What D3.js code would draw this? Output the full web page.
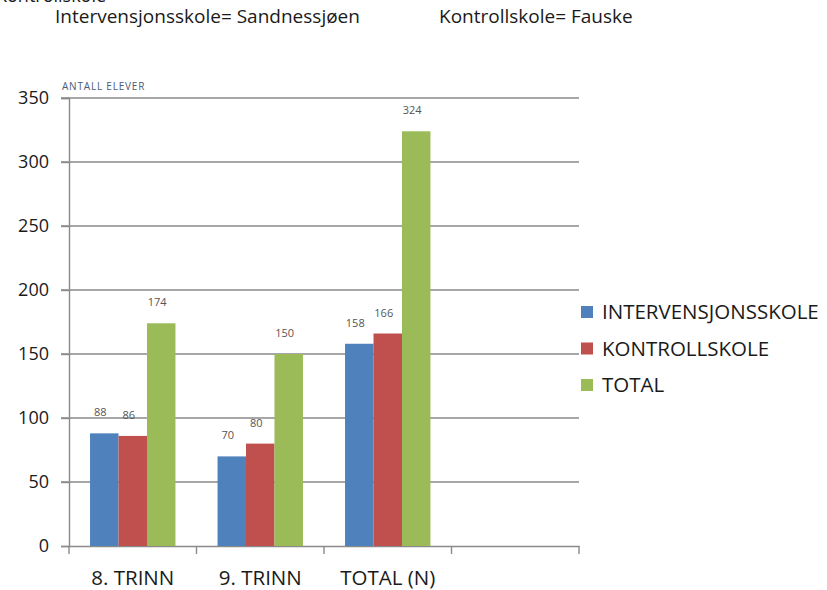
<!DOCTYPE html>
<html>
<head>
<meta charset="utf-8">
<script src="https://cdn.jsdelivr.net/npm/d3@7"></script>
<style>
  body { margin: 0; background: #fff; }
  text { font-family: "Open Sans", "Liberation Sans", sans-serif; }
</style>
</head>
<body>
<div id="chart"></div>
<script>
// Chart data
var categories = ["8. TRINN", "9. TRINN", "TOTAL (N)", ""];
var seriesNames = ["INTERVENSJONSSKOLE", "KONTROLLSKOLE", "TOTAL"];
var intervensjon = [88, 70, 158, null];
var kontroll = [86, 80, 166, null];
var total = [174, 150, 324, null];
var yTicks = [0, 50, 100, 150, 200, 250, 300, 350];
var colors = ["#4F81BD", "#C0504D", "#9BBB59"];

var svgWidth = 827;
var svgHeight = 590;

var margin = { top: 98, left: 69, right: 248, bottom: 44 };
var width = svgWidth - margin.left - margin.right;
var height = svgHeight - margin.top - margin.bottom;

var svg = d3.select("#chart").append("svg")
  .attr("width", svgWidth)
  .attr("height", svgHeight);

// header texts (first line is cut at the top edge, as in the original)
svg.append("text")
  .attr("x", -4).attr("y", 2)
  .attr("font-size", 18).attr("fill", "#1a1a1a")
  .text("Kontrollskole");

svg.append("text")
  .attr("x", 55).attr("y", 23)
  .attr("font-size", 19).attr("fill", "#1a1a1a")
  .text("Intervensjonsskole= Sandnessjøen");

svg.append("text")
  .attr("x", 439).attr("y", 23)
  .attr("font-size", 19).attr("fill", "#1a1a1a")
  .text("Kontrollskole= Fauske");

var chartGroup = svg.append("g")
  .attr("transform", `translate(${margin.left}, ${margin.top})`);

// scales
var x0 = d3.scaleBand().domain(d3.range(categories.length)).range([0, width]);
var x1 = d3.scaleBand().domain(d3.range(seriesNames.length))
  .range([x0.bandwidth() * 0.165, x0.bandwidth() * 0.835]);
var y = d3.scaleLinear().domain([0, 350]).range([height, 0]);

// gridlines
chartGroup.selectAll(".grid")
  .data(yTicks.slice(1))
  .enter()
  .append("line")
  .attr("x1", -8).attr("x2", width)
  .attr("y1", d => y(d)).attr("y2", d => y(d))
  .attr("stroke", "#8a8a8a").attr("stroke-width", 1.4);

// y axis
var leftAxis = d3.axisLeft(y).tickValues(yTicks).tickSize(8).tickPadding(12);
var yAxis = chartGroup.append("g").call(leftAxis);
yAxis.select(".domain").attr("stroke", "#8a8a8a").attr("stroke-width", 1.4);
yAxis.selectAll(".tick line").attr("stroke", "#8a8a8a").attr("stroke-width", 1.4);
yAxis.selectAll("text")
  .attr("font-size", 18).attr("font-weight", 500).attr("fill", "#1a1a1a")
  .style("font-family", "'Open Sans', sans-serif");

// x axis
var bottomAxis = d3.axisBottom(x0).tickValues([]).tickSizeOuter(0);
var xAxis = chartGroup.append("g")
  .attr("transform", `translate(0, ${height})`)
  .call(bottomAxis);
xAxis.select(".domain").attr("stroke", "#8a8a8a").attr("stroke-width", 1.4);

// category tick marks between bands
xAxis.selectAll(".sep")
  .data(d3.range(categories.length + 1))
  .enter()
  .append("line")
  .attr("x1", d => d * x0.bandwidth()).attr("x2", d => d * x0.bandwidth())
  .attr("y1", 0).attr("y2", 8)
  .attr("stroke", "#8a8a8a").attr("stroke-width", 1.4);

xAxis.selectAll(".catlabel")
  .data(categories)
  .enter()
  .append("text")
  .attr("x", (d, i) => x0(i) + x0.bandwidth() / 2)
  .attr("y", 39)
  .attr("text-anchor", "middle")
  .attr("font-size", 20.5).attr("font-weight", 500).attr("fill", "#1a1a1a")
  .text(d => d);

// y axis title
chartGroup.append("text")
  .attr("x", -7).attr("y", -8)
  .attr("font-size", 10).attr("letter-spacing", 0.8).attr("fill", "#4b5a78")
  .text("ANTALL  ELEVER");

// bars
var seriesData = [intervensjon, kontroll, total];
seriesData.forEach(function(values, s) {
  var valid = values.map((v, i) => ({ v: v, i: i })).filter(d => d.v !== null);

  chartGroup.selectAll(".bar" + s)
    .data(valid)
    .enter()
    .append("rect")
    .attr("x", d => x0(d.i) + x1(s))
    .attr("y", d => y(d.v))
    .attr("width", x1.bandwidth())
    .attr("height", d => height - y(d.v))
    .attr("fill", colors[s]);

  chartGroup.selectAll(".lab" + s)
    .data(valid)
    .enter()
    .append("text")
    .attr("x", d => x0(d.i) + x1(s) + x1.bandwidth() / 2 - 4)
    .attr("y", d => y(d.v) - 17)
    .attr("text-anchor", "middle")
    .attr("font-size", 11).attr("fill", "#555")
    .text(d => d.v);
});

// legend
var legend = svg.append("g")
  .attr("transform", "translate(581, 312)");

var legendItem = legend.selectAll("g")
  .data(seriesNames)
  .enter()
  .append("g")
  .attr("transform", (d, i) => `translate(0, ${i * 36.5})`);

legendItem.append("rect")
  .attr("x", 0).attr("y", -6)
  .attr("width", 12).attr("height", 12)
  .attr("fill", (d, i) => colors[i]);

legendItem.append("text")
  .attr("x", 21).attr("y", 7)
  .attr("font-size", 20.5).attr("font-weight", 500).attr("fill", "#1a1a1a")
  .text(d => d);
</script>
</body>
</html>
